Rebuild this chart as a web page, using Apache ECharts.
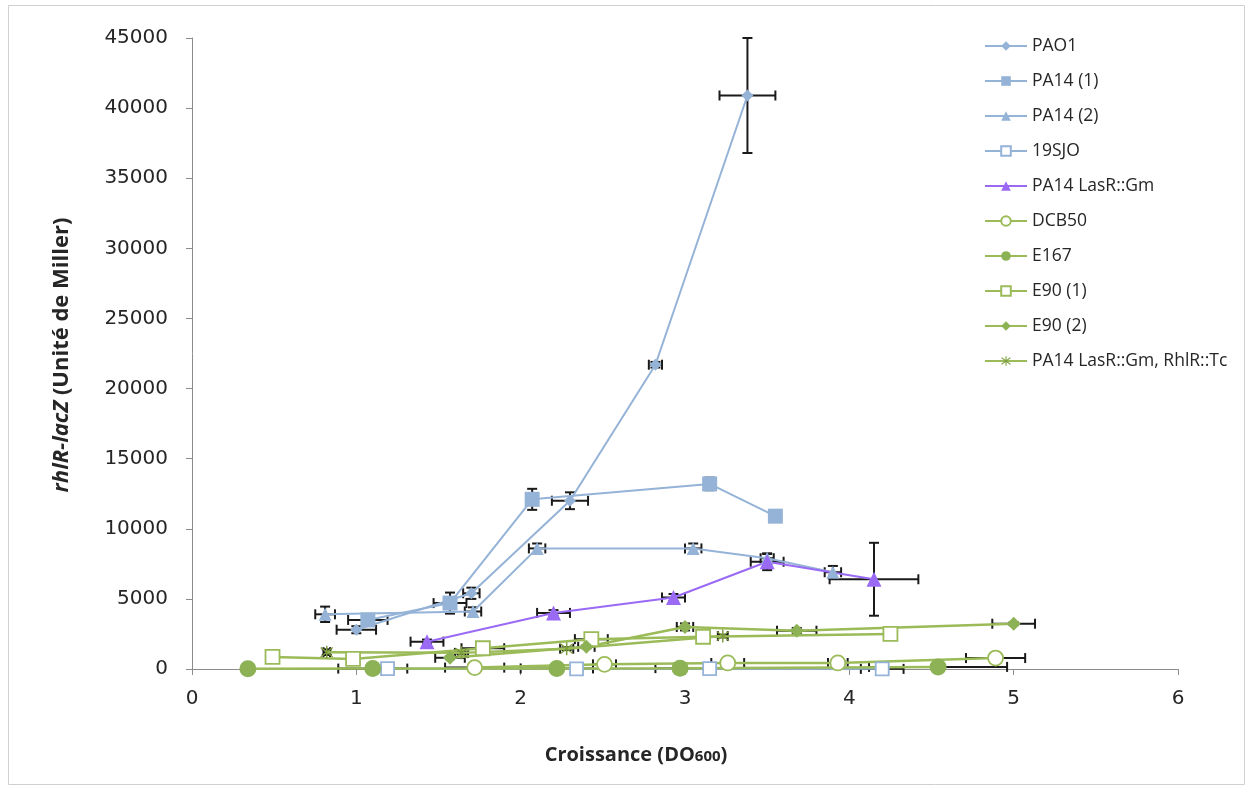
<!DOCTYPE html>
<html><head><meta charset="utf-8">
<script src="https://cdn.jsdelivr.net/npm/echarts@6/dist/echarts.min.js"></script>
<style>html,body{margin:0;padding:0;background:#fff}#c{width:1252px;height:790px}</style>
</head><body><div id="c"></div>
<script>
// ---- data (x = DO600, y = Miller units, errors) ----
const seriesNames = ['PAO1','PA14 (1)','PA14 (2)','19SJO','PA14 LasR::Gm','DCB50','E167','E90 (1)','E90 (2)','PA14 LasR::Gm, RhlR::Tc'];

const pao1X = [1.00, 1.70, 2.30, 2.82, 3.38];
const pao1Y = [2800, 5400, 12000, 21700, 40900];
const pao1XErr = [0.12, 0.05, 0.11, 0.04, 0.17];
const pao1YErr = [250, 400, 600, 200, 4100];

const pa14aX = [1.07, 1.57, 2.07, 3.15, 3.55];
const pa14aY = [3500, 4700, 12100, 13200, 10900];
const pa14aXErr = [0.12, 0.10, 0.02, 0.03, 0.03];
const pa14aYErr = [400, 750, 750, 450, 250];

const pa14bX = [0.81, 1.71, 2.10, 3.05, 3.50, 3.90];
const pa14bY = [3900, 4100, 8600, 8600, 7900, 6900];
const pa14bXErr = [0.06, 0.05, 0.05, 0.05, 0.04, 0.05];
const pa14bYErr = [550, 300, 350, 350, 300, 450];

const sjoX = [1.19, 2.34, 3.15, 4.20];
const sjoY = [20, 10, 20, 10];
const sjoXErr = [0.02, 0.02, 0.02, 0.13];
const sjoYErr = [0, 0, 0, 0];

const lasrX = [1.43, 2.20, 2.93, 3.50, 4.15];
const lasrY = [1950, 4000, 5100, 7650, 6400];
const lasrXErr = [0.10, 0.10, 0.07, 0.10, 0.27];
const lasrYErr = [150, 200, 250, 600, 2600];

const dcbX = [1.72, 2.51, 3.26, 3.93, 4.89];
const dcbY = [100, 330, 430, 430, 780];
const dcbXErr = [0.18, 0.07, 0.10, 0.06, 0.18];
const dcbYErr = [0, 100, 80, 80, 100];

const e167X = [0.34, 1.10, 2.22, 2.97, 4.54];
const e167Y = [20, 30, 40, 60, 150];
const e167XErr = [0, 0.21, 0.22, 0.15, 0.42];
const e167YErr = [0, 0, 0, 0, 0];

const e90aX = [0.49, 0.98, 1.77, 2.43, 3.11, 4.25];
const e90aY = [860, 720, 1480, 2130, 2300, 2500];
const e90aXErr = [0.02, 0.02, 0.13, 0.10, 0.03, 0.03];
const e90aYErr = [150, 0, 100, 150, 100, 150];

const e90bX = [1.57, 2.40, 3.00, 3.68, 5.00];
const e90bY = [800, 1580, 3000, 2730, 3230];
const e90bXErr = [0.09, 0.05, 0.05, 0.12, 0.13];
const e90bYErr = [100, 100, 250, 200, 100];

const lrX = [0.82, 1.64, 2.28, 3.23];
const lrY = [1200, 1150, 1450, 2350];
const lrXErr = [0.02, 0.04, 0.04, 0.03];
const lrYErr = [200, 100, 100, 100];

// ---- styling ----
const BLUE = '#95B3D7', PURPLE = '#9A6AF5', GREEN = '#9BBB59', GREEN_D = '#8DB255';
const ASTER = 'path://M-0.9,-10 L0.9,-10 L0.9,10 L-0.9,10 Z M-7.8,-6.5 L-6.5,-7.8 L7.8,6.5 L6.5,7.8 Z M6.5,-7.8 L7.8,-6.5 L-6.5,7.8 L-7.8,6.5 Z';

const defs = [
  {x:pao1X,y:pao1Y,xe:pao1XErr,ye:pao1YErr,color:BLUE,symbol:'diamond',size:12,fill:BLUE,lw:2},
  {x:pa14aX,y:pa14aY,xe:pa14aXErr,ye:pa14aYErr,color:BLUE,symbol:'rect',size:15,fill:BLUE,lw:2},
  {x:pa14bX,y:pa14bY,xe:pa14bXErr,ye:pa14bYErr,color:BLUE,symbol:'triangle',size:13,fill:BLUE,lw:2},
  {x:sjoX,y:sjoY,xe:sjoXErr,ye:sjoYErr,color:BLUE,symbol:'rect',size:13,fill:'#fff',lw:2,open:true},
  {x:lasrX,y:lasrY,xe:lasrXErr,ye:lasrYErr,color:PURPLE,symbol:'triangle',size:15,fill:PURPLE,lw:2},
  {x:dcbX,y:dcbY,xe:dcbXErr,ye:dcbYErr,color:GREEN,symbol:'circle',size:15,fill:'#fff',lw:2.5,open:true},
  {x:e167X,y:e167Y,xe:e167XErr,ye:e167YErr,color:GREEN,symbol:'circle',size:17,fill:GREEN_D,lw:2.5},
  {x:e90aX,y:e90aY,xe:e90aXErr,ye:e90aYErr,color:GREEN,symbol:'rect',size:14,fill:'#fff',lw:2.5,open:true},
  {x:e90bX,y:e90bY,xe:e90bXErr,ye:e90bYErr,color:GREEN,symbol:'diamond',size:14,fill:GREEN_D,lw:2.5},
  {x:lrX,y:lrY,xe:lrXErr,ye:lrYErr,color:GREEN,symbol:ASTER,size:13,fill:'#7E9E3E',lw:2.5}
];

function errRender(params, api) {
  const x = api.value(0), y = api.value(1), xe = api.value(2), ye = api.value(3);
  const children = [];
  const st = {stroke:'#1a1a1a', lineWidth:2};
  const cap = 5;
  if (xe > 0) {
    const a = api.coord([x - xe, y]), b = api.coord([x + xe, y]);
    children.push({type:'line', shape:{x1:a[0],y1:a[1],x2:b[0],y2:b[1]}, style:st});
    children.push({type:'line', shape:{x1:a[0],y1:a[1]-cap,x2:a[0],y2:a[1]+cap}, style:st});
    children.push({type:'line', shape:{x1:b[0],y1:b[1]-cap,x2:b[0],y2:b[1]+cap}, style:st});
  }
  if (ye > 0) {
    const a = api.coord([x, y - ye]), b = api.coord([x, y + ye]);
    children.push({type:'line', shape:{x1:a[0],y1:a[1],x2:b[0],y2:b[1]}, style:st});
    children.push({type:'line', shape:{x1:a[0]-cap,y1:a[1],x2:a[0]+cap,y2:a[1]}, style:st});
    children.push({type:'line', shape:{x1:b[0]-cap,y1:b[1],x2:b[0]+cap,y2:b[1]}, style:st});
  }
  return {type:'group', children};
}

const series = [];
defs.forEach((d, i) => {
  series.push({
    name: seriesNames[i] + ' err', type:'custom',
    data: d.x.map((v, k) => [v, d.y[k], d.xe[k], d.ye[k]]),
    encode: {x:0, y:1},
    renderItem: errRender, z: 2, silent: true, animation: false
  });
  series.push({
    name: seriesNames[i], type:'line',
    data: d.x.map((v, k) => [v, d.y[k]]),
    symbol: d.symbol, symbolSize: d.size, showAllSymbol: true,
    lineStyle: {color: d.color, width: d.lw},
    itemStyle: {color: d.fill, borderColor: d.open ? d.color : d.fill, borderWidth: d.open ? 1.8 : 0, opacity: 1},
    z: 3, animation: false
  });
});

const chart = echarts.init(document.getElementById('c'), null, {renderer:'canvas'});
chart.setOption({
  animation: false,
  backgroundColor: '#fff',
  grid: {left:192, top:38, right:74, bottom:121, containLabel:false},
  xAxis: {
    type:'value', min:0, max:6, interval:1,
    axisLine:{show:true, onZero:false, lineStyle:{color:'#8c8c8c', width:1}},
    axisTick:{show:true, inside:false, length:6, lineStyle:{color:'#8c8c8c'}},
    axisLabel:{fontFamily:'DejaVu Sans', fontSize:20, color:'#262626', margin:20},
    splitLine:{show:false}
  },
  yAxis: {
    type:'value', min:0, max:45000, interval:5000,
    axisLine:{show:true, lineStyle:{color:'#8c8c8c', width:1}},
    axisTick:{show:true, inside:false, length:6, lineStyle:{color:'#8c8c8c'}},
    axisLabel:{fontFamily:'DejaVu Sans', fontSize:20, color:'#262626', margin:24, formatter: v => String(v)},
    splitLine:{show:false}
  },
  legend: {
    orient:'vertical', left:984, top:37, padding:0,
    data: seriesNames,
    itemWidth:42, itemHeight:12, itemGap:17,
    textStyle:{fontFamily:'Open Sans', fontSize:17.5, color:'#262626'},
    selectedMode:false
  },
  graphic: [
    {type:'rect', shape:{x:8.5, y:5.5, width:1236, height:779}, style:{fill:'none', stroke:'#d0d0d0', lineWidth:1}, silent:true, z:-1},
    {type:'text', x:636, y:755, style:{
      text:'{b|Croissance (DO}{s|600}{b|)}', align:'center', verticalAlign:'middle',
      rich:{b:{fontFamily:'Open Sans', fontWeight:'bold', fontSize:20, fill:'#262626'},
            s:{fontFamily:'Open Sans', fontWeight:'bold', fontSize:15, fill:'#262626', padding:[4,0,0,0]}}
    }},
    {type:'text', rotation:Math.PI/2, x:62, y:355, style:{
      text:'{i|rhlR-lacZ}{b| (Unité de Miller)}', align:'center', verticalAlign:'middle',
      rich:{i:{fontFamily:'Open Sans', fontWeight:'bold', fontStyle:'italic', fontSize:22, fill:'#262626'},
            b:{fontFamily:'Open Sans', fontWeight:'bold', fontSize:22, fill:'#262626'}}
    }}
  ],
  series
});
</script></body></html>
